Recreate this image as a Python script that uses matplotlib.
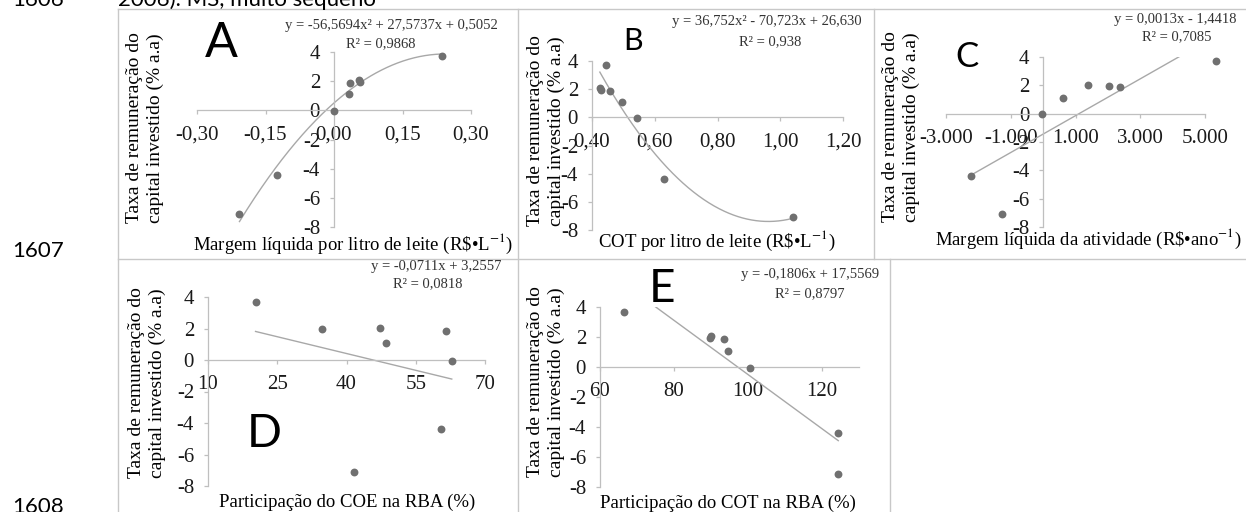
import numpy as np
import matplotlib
matplotlib.use("Agg")
import matplotlib.pyplot as plt
from matplotlib.lines import Line2D

plt.rcParams['font.family'] = ['Liberation Serif', 'DejaVu Serif']
plt.rcParams['mathtext.fontset'] = 'stix'

W, H = 1246, 512

# taxa de remuneracao do capital investido (% a.a) - same 8 farms in every panel
taxa = [3.7, 2.05, 1.95, 1.85, 1.1, -0.05, -4.4, -7.1]

# x values for each panel
ml_litro = [0.236, 0.054, 0.056, 0.035, 0.033, 0.0, -0.124, -0.207]
cot_litro = [0.445, 0.425, 0.43, 0.457, 0.495, 0.545, 0.628, 1.04]
ml_ano = [5340, 1375, 2030, 2375, 625, -50, -2219, -1281]
coe_rba = [20.3, 47.2, 34.8, 61.6, 48.5, 62.8, 60.4, 41.6]
cot_rba = [66.6, 89.9, 89.6, 93.5, 94.5, 100.6, 124.4, 124.3]

# trendline coefficients (as printed on the chart)
coef_a = [-56.5694, 27.5737, 0.5052]
coef_b = [36.752, -70.723, 26.630]
coef_c = [0.0013, -1.4418]
coef_d = [-0.0711, 3.2557]
coef_e = [-0.1806, 17.5569]

eq_a = ['y = -56,5694x² + 27,5737x + 0,5052', 'R² = 0,9868']
eq_b = ['y = 36,752x² - 70,723x + 26,630', 'R² = 0,938']
eq_c = ['y = 0,0013x - 1,4418', 'R² = 0,7085']
eq_d = ['y = -0,0711x + 3,2557', 'R² = 0,0818']
eq_e = ['y = -0,1806x + 17,5569', 'R² = 0,8797']

y_ticks = [-8, -6, -4, -2, 0, 2, 4]
y_ticklabels = ['-8', '-6', '-4', '-2', '0', '2', '4']

xt_a = [-0.30, -0.15, 0.0, 0.15, 0.30]
xl_a = ['-0,30', '-0,15', '0,00', '0,15', '0,30']
xt_b = [0.40, 0.60, 0.80, 1.00, 1.20]
xl_b = ['0,40', '0,60', '0,80', '1,00', '1,20']
xt_c = [-3000, -1000, 1000, 3000, 5000]
xl_c = ['-3.000', '-1.000', '1.000', '3.000', '5.000']
xt_d = [10, 25, 40, 55, 70]
xl_d = ['10', '25', '40', '55', '70']
xt_e = [60, 80, 100, 120]
xl_e = ['60', '80', '100', '120']

ylab = 'Taxa de remuneração do\ncapital investido (% a.a)'
xlab_a = 'Margem líquida por litro de leite (R\\$•L$^{-1}$)'
xlab_b = 'COT por litro de leite (R\\$•L$^{-1}$)'
xlab_c = 'Margem líquida da atividade (R\\$•ano$^{-1}$)'
xlab_d = 'Participação do COE na RBA (%)'
xlab_e = 'Participação do COT na RBA (%)'

fig = plt.figure(figsize=(W / 100, H / 100), dpi=100)
fig.patch.set_facecolor('white')

AXIS = '#bfbfbf'
BORDER = '#c8c8c8'


def fx(px):
    return px / W


def fy(py):
    return 1 - py / H


def painel(box, x, coef, xlim, xt, xl, ycross):
    x0, y0, x1, y1 = box
    ax = fig.add_axes([fx(x0), fy(y1), (x1 - x0) / W, (y1 - y0) / H])
    ax.patch.set_alpha(0)
    ax.set_xlim(xlim)
    ax.set_ylim(-8, 4)
    ax.spines[['top', 'right']].set_visible(False)
    ax.spines['bottom'].set_position(('data', 0))
    ax.spines['left'].set_position(('data', ycross))
    for s in ['bottom', 'left']:
        ax.spines[s].set_color(AXIS)
        ax.spines[s].set_linewidth(0.9)
    ax.set_xticks(xt)
    ax.set_xticklabels(xl)
    ax.set_yticks(y_ticks)
    ax.set_yticklabels(y_ticklabels)
    ax.tick_params(direction='out', length=3, width=0.9, color=AXIS, labelsize=15,
                   labelcolor='#1a1a1a')
    ax.tick_params(axis='x', pad=8)
    ax.tick_params(axis='y', pad=7)
    xs = np.linspace(min(x), max(x), 300)
    ax.plot(xs, np.polyval(coef, xs), color='#a8a8a8', lw=1.0)
    ax.scatter(x, taxa, s=32, color='#707070', lw=0, zorder=3, clip_on=False)
    return ax


painel((197, 52, 471, 227), ml_litro, coef_a, (-0.30, 0.30), xt_a, xl_a, 0.0)
painel((592, 61, 843, 230), cot_litro, coef_b, (0.40, 1.20), xt_b, xl_b, 0.40)
painel((946, 57, 1205, 227), ml_ano, coef_c, (-3000, 5000), xt_c, xl_c, 0.0)
painel((208, 297, 485, 486), coe_rba, coef_d, (10, 70), xt_d, xl_d, 10)
painel((600, 307, 859, 487), cot_rba, coef_e, (60, 130), xt_e, xl_e, 60)

# panel frames
lines = [
    ((117, 1246), (8, 8)),
    ((117, 1246), (258, 258)),
    ((117, 117), (8, 512)),
    ((517, 517), (8, 512)),
    ((873, 873), (8, 258)),
    ((889, 889), (258, 512)),
]
for xs_, ys_ in lines:
    fig.add_artist(Line2D([fx(v + 0.5) for v in xs_], [fy(v + 0.5) for v in ys_],
                          color=BORDER, lw=1.0))

# axis titles
ylab_pos = [(145, 128), (546, 131), (901, 127), (147, 383), (546, 382)]
for cx, cy in ylab_pos:
    fig.text(fx(cx), fy(cy), ylab, rotation=90, ha='center', va='center',
             multialignment='center', fontsize=14, linespacing=1.3)

xlab_pos = [(xlab_a, 353, 250), (xlab_b, 717, 247), (xlab_c, 1088, 245),
            (xlab_d, 347, 507), (xlab_e, 728, 508)]
for txt, cx, by in xlab_pos:
    fig.text(fx(cx), fy(by), txt, ha='center', va='baseline', fontsize=13.5)

# trendline equations
eq_pos = [(eq_a, 391, 29, 381, 47), (eq_b, 767, 25, 770, 45), (eq_c, 1175, 23, 1177, 40),
          (eq_d, 436, 270, 428, 287), (eq_e, 810, 278, 810, 297)]
for eq, cx1, b1, cx2, b2 in eq_pos:
    fig.text(fx(cx1), fy(b1), eq[0], ha='center', va='baseline', fontsize=10.5, color='#333333')
    fig.text(fx(cx2), fy(b2), eq[1], ha='center', va='baseline', fontsize=10.5, color='#333333')

# panel letters
letters = [('A', 205, 57, 35), ('B', 623, 50, 22), ('C', 955, 67, 25),
           ('D', 247, 447, 33), ('E', 649, 302, 33)]
for let, lx, by, fs in letters:
    fig.text(fx(lx), fy(by), let, ha='left', va='baseline', fontsize=fs,
             family=['Lato', 'DejaVu Sans'])

# document line numbers and cut text line
fig.text(fx(12), fy(6), '1606', va='baseline', fontsize=16, family=['Lato', 'DejaVu Sans'])
fig.text(fx(118), fy(6), '2006). MS, muito sequeno', va='baseline', fontsize=16,
         family=['Lato', 'DejaVu Sans'])
fig.text(fx(12), fy(257), '1607', va='baseline', fontsize=16, family=['Lato', 'DejaVu Sans'])
fig.text(fx(12), fy(513), '1608', va='baseline', fontsize=16, family=['Lato', 'DejaVu Sans'])

fig.savefig('out.png', dpi=100)
